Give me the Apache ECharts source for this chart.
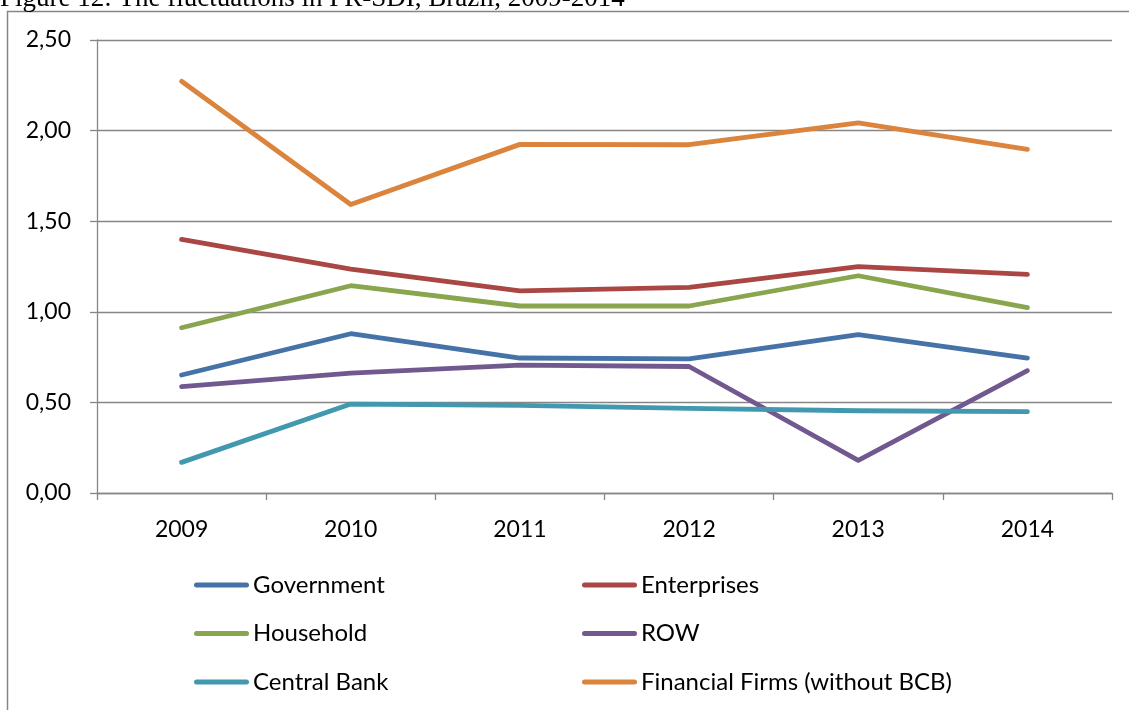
<!DOCTYPE html>
<html>
<head>
<meta charset="utf-8">
<style>
html,body{margin:0;padding:0;background:#fff;}
#c{width:1129px;height:710px;}
</style>
<script src="https://cdn.jsdelivr.net/npm/echarts@6/dist/echarts.min.js"></script>
</head>
<body>
<div id="c"></div>
<script>
const title = 'Figure 12: The fluctuations in PR-SDI, Brazil, 2009-2014';
const years = ['2009','2010','2011','2012','2013','2014'];
const yTicks = [0, 0.5, 1.0, 1.5, 2.0, 2.5];
const government  = [0.651, 0.879, 0.745, 0.740, 0.874, 0.745];
const enterprises = [1.400, 1.235, 1.115, 1.135, 1.249, 1.207];
const household   = [0.912, 1.144, 1.032, 1.032, 1.199, 1.023];
const row         = [0.587, 0.662, 0.706, 0.698, 0.180, 0.675];
const centralBank = [0.169, 0.491, 0.484, 0.467, 0.454, 0.449];
const financial   = [2.272, 1.592, 1.924, 1.922, 2.042, 1.897];

const names = ['Government','Enterprises','Household','ROW','Central Bank','Financial Firms (without BCB)'];
const colors = ['#4572A7','#AA4643','#89A54E','#71588F','#4198AF','#DB843D'];
const values = [government, enterprises, household, row, centralBank, financial];

const FONT = 'Lato';
const legendIcon = 'path://M2.5,0 L52.5,0 A2.5,2.5 0 0 1 52.5,5 L2.5,5 A2.5,2.5 0 0 1 2.5,0 Z';
const legendCommon = {
  orient: 'vertical',
  top: 573,
  padding: 0,
  itemWidth: 55,
  itemHeight: 5,
  itemGap: 24.5,
  icon: legendIcon,
  textStyle: {fontFamily: FONT, fontSize: 24, color: '#000', lineHeight: 22, padding: [0,0,0,-1]},
  selectedMode: false
};

const chart = echarts.init(document.getElementById('c'), null, {renderer: 'canvas'});
chart.setOption({
  animation: false,
  backgroundColor: '#fff',
  color: colors,
  graphic: [
    {type: 'rect', shape: {x: 7.5, y: 11.5, width: 1200, height: 800},
     style: {fill: 'none', stroke: '#868686', lineWidth: 1.5}, z: -1},
    {type: 'text', left: 0, top: -15,
     style: {text: title, font: '27px "Liberation Serif"', fill: '#000'}}
  ],
  grid: {left: 97, top: 40, right: 17, bottom: 217, containLabel: false},
  xAxis: {
    type: 'category',
    data: years,
    boundaryGap: true,
    axisLine: {show: true, lineStyle: {color: '#868686', width: 1.3}},
    axisTick: {show: true, interval: 0, length: 7, lineStyle: {color: '#868686', width: 1.3}},
    axisLabel: {fontFamily: FONT, fontSize: 23, color: '#000', margin: 25, interval: 0},
    splitLine: {show: false}
  },
  yAxis: {
    type: 'value',
    min: yTicks[0],
    max: yTicks[yTicks.length-1],
    interval: 0.5,
    axisLine: {show: true, lineStyle: {color: '#868686', width: 1.3}},
    axisTick: {show: true, length: 7, lineStyle: {color: '#868686', width: 1.3}},
    axisLabel: {fontFamily: FONT, fontSize: 23, color: '#000', margin: 26,
      formatter: v => v.toFixed(2).replace('.', ',')},
    splitLine: {show: true, lineStyle: {color: '#868686', width: 1.3}}
  },
  legend: [
    Object.assign({}, legendCommon, {left: 194, data: [names[0], names[2], names[4]]}),
    Object.assign({}, legendCommon, {left: 582, data: [names[1], names[3], names[5]]})
  ],
  series: names.map((n, i) => ({
    name: n,
    type: 'line',
    data: values[i],
    symbol: 'none',
    showSymbol: false,
    lineStyle: {color: colors[i], width: 4.8, cap: 'round', join: 'round'},
    itemStyle: {color: colors[i]},
    emphasis: {disabled: true}
  }))
});
</script>
</body>
</html>
